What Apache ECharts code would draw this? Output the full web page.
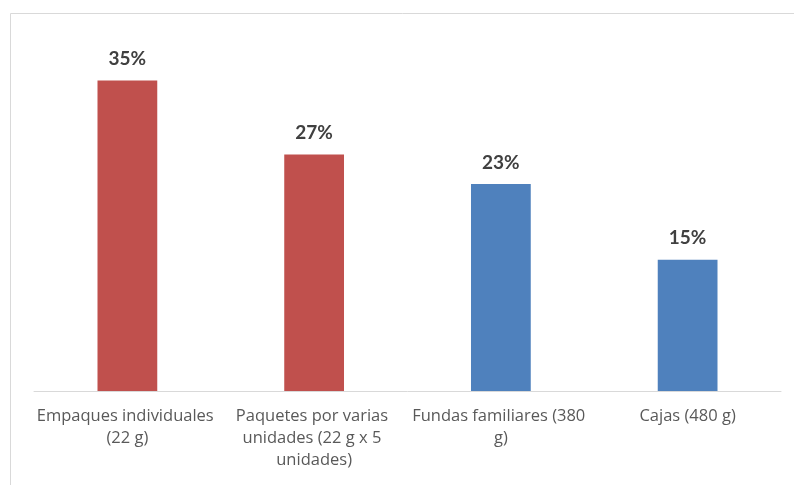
<!DOCTYPE html>
<html>
<head>
<meta charset="utf-8">
<script src="https://cdn.jsdelivr.net/npm/echarts@6/dist/echarts.min.js"></script>
<style>
html, body { margin: 0; padding: 0; background: #fff; }
#chart { width: 794px; height: 485px; }
</style>
</head>
<body>
<div id="chart"></div>
<script>
var categories = [
    'Empaques individuales (22 g)',
    'Paquetes por varias unidades (22 g x 5 unidades)',
    'Fundas familiares (380 g)',
    'Cajas (480 g)'
];
var values = [34.8, 26.5, 23.2, 14.7];
var labels = ['35%', '27%', '23%', '15%'];
var barColors = ['#C0504D', '#C0504D', '#4F81BD', '#4F81BD'];

var chart = echarts.init(document.getElementById('chart'), null, { renderer: 'canvas' });

var seriesData = [];
for (var i = 0; i < values.length; i++) {
    seriesData.push({
        value: values[i],
        itemStyle: { color: barColors[i] }
    });
}

chart.setOption({
    animation: false,
    textStyle: { fontFamily: 'Open Sans' },
    graphic: [{
        type: 'rect',
        shape: { x: 10.5, y: 13.5, width: 800, height: 500 },
        style: { fill: 'none', stroke: '#d9d9d9', lineWidth: 1 },
        z: -1
    }],
    grid: { left: 34, right: 13, top: 34, bottom: 94 },
    xAxis: {
        type: 'category',
        data: categories,
        axisLine: { lineStyle: { color: '#d9d9d9', width: 1 } },
        axisTick: { show: false },
        axisLabel: {
            color: '#595959',
            fontSize: 16.5,
            lineHeight: 22,
            margin: 14,
            width: 186,
            overflow: 'break',
            interval: 0
        }
    },
    yAxis: {
        type: 'value',
        min: 0,
        max: 40,
        show: false,
        splitLine: { show: false }
    },
    series: [{
        type: 'bar',
        data: seriesData,
        barWidth: '32%',
        label: {
            show: true,
            position: 'top',
            distance: 12,
            color: '#404040',
            fontFamily: 'Lato',
            fontSize: 19,
            fontWeight: 'bold',
            formatter: function (p) { return labels[p.dataIndex]; }
        }
    }]
});
</script>
</body>
</html>
